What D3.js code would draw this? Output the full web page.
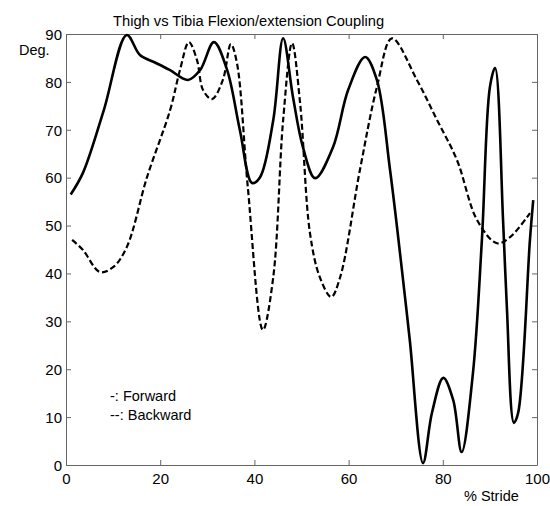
<!DOCTYPE html>
<html>
<head>
<meta charset="utf-8">
<script src="https://cdn.jsdelivr.net/npm/d3@7"></script>
<style>
  body { margin: 0; background: #fff; }
  svg text { font-family: "Liberation Sans", Arial, sans-serif; fill: #000; }
</style>
</head>
<body>
<svg id="chart" width="550" height="506"></svg>
<script>
// data (% stride, degrees)
const forwardX = [1, 3.6, 8, 12.9, 15.7, 19, 22, 25.9, 28.5, 31.4, 34.2, 36.9, 39.5, 41.2, 44, 46.1, 48.2, 50.3, 52.9, 56.7, 59.9, 63.5, 66, 68.8, 71.5, 73, 75.8, 77.7, 80.1, 82.2, 84, 86.4, 88.3, 90, 91.1, 92.8, 93.6, 95.1, 96, 98.5, 99.2];
const forwardY = [56.5, 61, 74, 89.8, 85.6, 84, 82.5, 80.4, 82.5, 88.3, 82.5, 70, 58.9, 60.1, 72, 89.1, 76.8, 66.4, 59.9, 66.4, 78.3, 85.2, 80.4, 61.6, 39.2, 26, 0.4, 10.9, 18.2, 13.6, 2.7, 19.2, 47, 78.9, 82.9, 51, 33, 8.8, 10.9, 47, 55.3];

const backwardX = [1.3, 3.6, 7.2, 10, 12.9, 17.2, 22.1, 24.2, 26.1, 27.8, 29.1, 31, 33.3, 35, 36.3, 38.6, 41.8, 44, 46.1, 48, 49.7, 51.8, 53.9, 56.3, 58.2, 62.4, 66, 69.2, 74.5, 78.8, 83, 87.3, 91.5, 94.3, 98.5];
const backwardY = [47, 44.9, 40.3, 41.3, 45.5, 60.1, 74.1, 82.5, 88.3, 84.6, 78.3, 76.4, 80.4, 87.9, 83.9, 58, 28.2, 39.2, 72, 88.1, 75.6, 48.4, 39.2, 35.1, 39.2, 61.6, 78.9, 89.1, 80.4, 72, 63.7, 51.1, 46.3, 47.6, 52.6];

const xTicks = [0, 20, 40, 60, 80, 100];
const yTicks = [0, 10, 20, 30, 40, 50, 60, 70, 80, 90];

const margin = { top: 34, right: 13, bottom: 41, left: 66 };
const width = 550, height = 506;
const plotW = width - margin.left - margin.right;
const plotH = height - margin.top - margin.bottom;

const svg = d3.select('#chart');
const g = svg.append('g').attr('transform', `translate(${margin.left},${margin.top})`);

const x = d3.scaleLinear().domain([0, 100]).range([0, plotW]);
const y = d3.scaleLinear().domain([0, 90]).range([plotH, 0]);

// axes, matlab style ticks pointing in
const axisStyle = sel => {
	sel.select('.domain').attr('stroke', '#666');
	sel.selectAll('.tick line').attr('stroke', '#666');
	sel.selectAll('.tick text').style('font-size', '15px');
};

g.append('g')
	.attr('transform', `translate(0,${plotH})`)
	.call(d3.axisBottom(x).tickValues(xTicks).tickSize(-5).tickSizeOuter(0).tickPadding(8))
	.call(axisStyle);

g.append('g')
	.call(d3.axisLeft(y).tickValues(yTicks).tickSize(-5).tickSizeOuter(0).tickPadding(4))
	.call(axisStyle)
	.selectAll('.tick text').attr('dy', '0.35em');

g.append('g')
	.call(d3.axisTop(x).tickValues(xTicks).tickSize(-5).tickSizeOuter(0).tickFormat(''))
	.call(axisStyle);

g.append('g')
	.attr('transform', `translate(${plotW},0)`)
	.call(d3.axisRight(y).tickValues(yTicks).tickSize(-5).tickSizeOuter(0).tickFormat(''))
	.call(axisStyle);

const line = d3.line()
	.x(d => x(d[0]))
	.y(d => y(d[1]))
	.curve(d3.curveCatmullRom.alpha(0.5));

g.append('path')
	.attr('d', line(d3.zip(forwardX, forwardY)))
	.attr('fill', 'none')
	.attr('stroke', '#000')
	.attr('stroke-width', 2.6)
	.attr('stroke-linejoin', 'round');

g.append('path')
	.attr('d', line(d3.zip(backwardX, backwardY)))
	.attr('fill', 'none')
	.attr('stroke', '#000')
	.attr('stroke-width', 2.2)
	.attr('stroke-dasharray', '6,3');

// labels
svg.append('text')
	.attr('x', 113).attr('y', 26)
	.style('font-size', '14.7px')
	.text('Thigh vs Tibia Flexion/extension Coupling');

svg.append('text')
	.attr('x', 19).attr('y', 55)
	.style('font-size', '14.5px')
	.text('Deg.');

svg.append('text')
	.attr('x', 464).attr('y', 501)
	.style('font-size', '14.5px')
	.text('% Stride');

svg.append('text')
	.attr('x', 110).attr('y', 401)
	.style('font-size', '14.5px')
	.text('-: Forward');

svg.append('text')
	.attr('x', 110).attr('y', 420)
	.style('font-size', '14.5px')
	.text('--: Backward');
</script>
</body>
</html>
